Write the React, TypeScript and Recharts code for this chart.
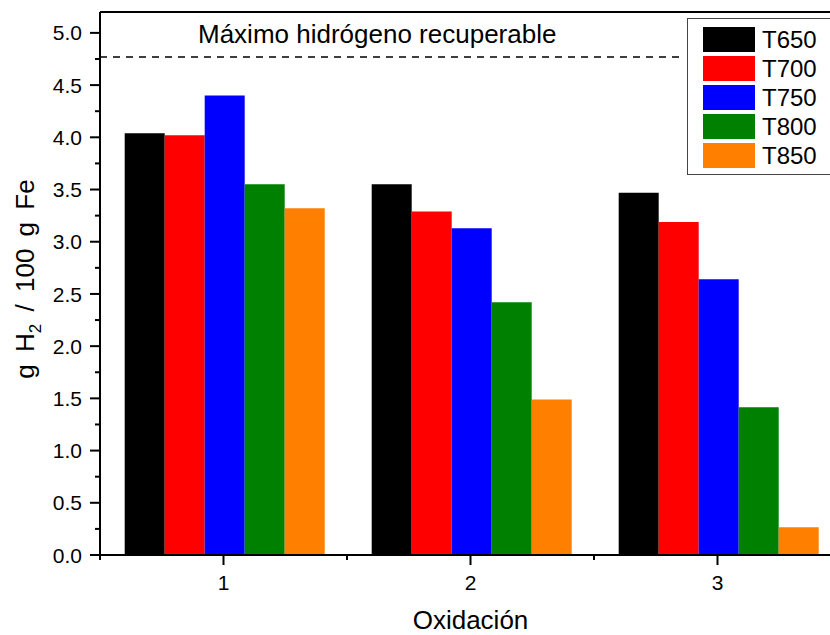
import React from 'react';
import { BarChart, Bar, XAxis, YAxis, ReferenceLine, Label } from 'recharts';

// oxidation cycle on the x axis, one bar per reduction temperature
const OXIDATIONS = ['1', '2', '3'];
const T650 = [4.04, 3.55, 3.47];
const T700 = [4.02, 3.29, 3.19];
const T750 = [4.4, 3.13, 2.64];
const T800 = [3.55, 2.42, 1.415];
const T850 = [3.32, 1.49, 0.265];

const SERIES_NAMES = ['T650', 'T700', 'T750', 'T800', 'T850'];
const SERIES_COLORS = ['#000000', '#ff0000', '#0000ff', '#008000', '#ff8000'];

const MAX_H2 = 4.77;
const Y_MAX = 5.2;
const Y_TICKS = [0, 0.25, 0.5, 0.75, 1, 1.25, 1.5, 1.75, 2, 2.25, 2.5, 2.75, 3, 3.25, 3.5, 3.75, 4, 4.25, 4.5, 4.75, 5];

const FONT = '"Liberation Sans", Arial, sans-serif';
const CHART_W = 880;
const CHART_H = 635;
const PLOT_LEFT = 100;
const PLOT_RIGHT = 841;
const PLOT_TOP = 12;
const PLOT_BOTTOM = 555;
const BAND = (PLOT_RIGHT - PLOT_LEFT) / OXIDATIONS.length;
const LEGEND_LEFT = 687;

const data = OXIDATIONS.map((ox, i) => ({
  ox,
  T650: T650[i],
  T700: T700[i],
  T750: T750[i],
  T800: T800[i],
  T850: T850[i],
}));

const YTick = (props: any) => {
  const { y, payload } = props;
  const v = payload.value as number;
  const major = Math.abs(v * 2 - Math.round(v * 2)) < 1e-6;
  return (
    <g>
      <line x1={PLOT_LEFT - (major ? 10 : 5)} x2={PLOT_LEFT} y1={y} y2={y} stroke="#000" strokeWidth={2} />
      {major && (
        <text x={PLOT_LEFT - 18} y={y} dy="0.36em" textAnchor="end" fontSize={21} fontFamily={FONT} fill="#000">
          {v.toFixed(1)}
        </text>
      )}
    </g>
  );
};

const XTick = (props: any) => {
  const { x, index, payload } = props;
  const last = index === OXIDATIONS.length - 1;
  return (
    <g>
      <line x1={x} x2={x} y1={PLOT_BOTTOM} y2={PLOT_BOTTOM + 10} stroke="#000" strokeWidth={2} />
      <line x1={x - BAND / 2} x2={x - BAND / 2} y1={PLOT_BOTTOM} y2={PLOT_BOTTOM + 5} stroke="#000" strokeWidth={2} />
      {last && (
        <line x1={x + BAND / 2} x2={x + BAND / 2} y1={PLOT_BOTTOM} y2={PLOT_BOTTOM + 5} stroke="#000" strokeWidth={2} />
      )}
      <text x={x} y={PLOT_BOTTOM + 35} textAnchor="middle" fontSize={21} fontFamily={FONT} fill="#000">
        {payload.value}
      </text>
    </g>
  );
};

const YTitle = () => (
  <text
    transform={`translate(34, 279) rotate(-90)`}
    textAnchor="middle"
    fontSize={26}
    fontFamily={FONT}
    fill="#000"
    style={{ wordSpacing: 5 }}
  >
    g H<tspan fontSize={17} dy={7}>2</tspan>
    <tspan dy={-7}> / 100 g Fe</tspan>
  </text>
);

const XTitle = () => (
  <text x={(PLOT_LEFT + PLOT_RIGHT) / 2} y={629} textAnchor="middle" fontSize={26} fontFamily={FONT} fill="#000">
    Oxidación
  </text>
);

// dashed limit line, stopped short of the legend box, with its caption
const MaxLine = (props: any) => {
  const { x1, y1 } = props;
  return (
    <g>
      <line x1={x1} x2={LEGEND_LEFT - 8} y1={y1} y2={y1} stroke="#000" strokeWidth={1.5} strokeDasharray="7 6" />
      <text x={198} y={y1 - 14} fontSize={26} fontFamily={FONT} fill="#000">
        Máximo hidrógeno recuperable
      </text>
    </g>
  );
};

const LegendBox = () => (
  <div
    style={{
      position: 'absolute',
      left: LEGEND_LEFT,
      top: 18,
      width: 170,
      height: 157,
      boxSizing: 'border-box',
      border: '1px solid #444',
      background: '#fff',
      paddingTop: 8,
      paddingLeft: 15,
      fontFamily: FONT,
    }}
  >
    {SERIES_NAMES.map((name, i) => (
      <div key={name} style={{ display: 'flex', alignItems: 'center', height: 25, marginBottom: 4 }}>
        <div style={{ width: 52, height: 25, background: SERIES_COLORS[i] }} />
        <span style={{ marginLeft: 7, fontSize: 24, lineHeight: '25px', color: '#000' }}>{name}</span>
      </div>
    ))}
  </div>
);

export default function App() {
  return (
    <div style={{ position: 'absolute', left: 0, top: 0, width: 830, height: 635, overflow: 'hidden', background: '#fff' }}>
      <BarChart
        width={CHART_W}
        height={CHART_H}
        data={data}
        margin={{ top: PLOT_TOP, right: CHART_W - PLOT_RIGHT, left: 0, bottom: CHART_H - PLOT_BOTTOM - 60 }}
        barCategoryGap="10%"
        barGap={0}
      >
        <XAxis
          dataKey="ox"
          height={60}
          axisLine={{ stroke: '#000', strokeWidth: 2 }}
          tickLine={false}
          tick={<XTick />}
          interval={0}
        >
          <Label content={<XTitle />} />
        </XAxis>
        <YAxis
          width={PLOT_LEFT}
          domain={[0, Y_MAX]}
          ticks={Y_TICKS}
          interval={0}
          allowDataOverflow
          axisLine={{ stroke: '#000', strokeWidth: 2 }}
          tickLine={false}
          tick={<YTick />}
        >
          <Label content={<YTitle />} />
        </YAxis>
        <ReferenceLine y={Y_MAX} stroke="#000" strokeWidth={2} />
        {SERIES_NAMES.map((name, i) => (
          <Bar key={name} dataKey={name} fill={SERIES_COLORS[i]} isAnimationActive={false} />
        ))}
        <ReferenceLine y={MAX_H2} shape={<MaxLine />} />
      </BarChart>
      <LegendBox />
    </div>
  );
}
